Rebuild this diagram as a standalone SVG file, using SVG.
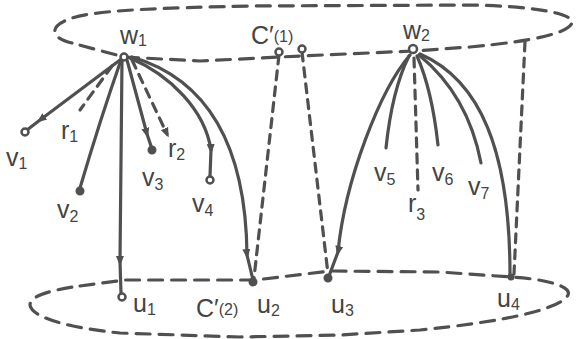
<svg xmlns="http://www.w3.org/2000/svg" width="576" height="339" viewBox="0 0 576 339">
<style>
.e{fill:none;stroke:#505050;stroke-width:3.2;stroke-linecap:round;stroke-linejoin:round}
.d{stroke-dasharray:14 9}
.dd{stroke-dasharray:9 7}
.h{fill:#fff;stroke:#505050;stroke-width:2.5}
.f{fill:#505050;stroke:#505050;stroke-width:2}
text{font-family:"Liberation Sans","DejaVu Sans",sans-serif;font-size:25px;fill:#444}
.s{font-size:16px}
</style>
<defs>
<marker id="arr" viewBox="0 0 10 10" refX="6" refY="5" markerWidth="10" markerHeight="10" markerUnits="userSpaceOnUse" orient="auto">
<path d="M0,1 L10,5 L0,9 z" fill="#505050"/>
</marker>
</defs>
<rect width="576" height="339" fill="#fff"/>
<g id="cylinder">
<path class="e d" d="M72,43 C50,38 48,26 72,18 C97,10 160,8 250,6 L470,5 C530,6 575,13 572,23 C568,33 535,41 470,47 L413,51 L300,56 L200,61 L124,57 Z"/>
<path class="e d" d="M80,286 L125,280 L255,280 L330,271 L440,272 L511,277 C545,279 572,286 568,295 C560,310 500,322 420,330 L340,335 L240,337 L120,333 C70,328 32,318 30,305 C30,296 50,290 80,286 Z"/>
</g>
<g id="connectors">
<path class="e" d="M124,57 L40,120 L27,130" marker-mid="url(#arr)"/>
<path class="e dd" d="M112,66 L80,110"/>
<path class="e" d="M121,60 Q100,120 80,188"/>
<path class="e" d="M122,60 L120,262 L121,293" marker-mid="url(#arr)"/>
<path class="e" d="M127,60 L147,134 L151,146" marker-mid="url(#arr)"/>
<path class="e dd" d="M132,60 L167,134" marker-end="url(#arr)"/>
<path class="e" d="M130,58 C170,75 205,110 211,150 L210,176" marker-mid="url(#arr)"/>
<path class="e" d="M132,57 C210,80 246,150 247,255 L253,280" marker-mid="url(#arr)"/>
<path class="e dd" d="M279,55 L254,278"/>
<path class="e dd" d="M302,52 L328,274"/>
<path class="e" d="M410,55 C380,90 345,180 338,252 L329,276" marker-mid="url(#arr)"/>
<path class="e" d="M409,56 Q392,90 386,148"/>
<path class="e dd" d="M414,58 L418,190"/>
<path class="e" d="M417,56 Q432,90 438,145"/>
<path class="e" d="M419,55 Q468,95 481,163"/>
<path class="e" d="M420,54 C480,80 510,150 510,275"/>
<path class="e dd" d="M525,42 L514,274"/>
</g>
<g id="w1"><circle class="h" cx="124" cy="57" r="3.5"/><text x="120" y="44">w<tspan class="s" dy="2">1</tspan></text></g>
<g id="c1"><circle class="h" cx="279" cy="52" r="3.5"/><circle class="h" cx="302" cy="49" r="3.5"/><text x="251" y="44">C′<tspan class="s" dy="-2">(1)</tspan></text></g>
<g id="w2"><circle class="h" cx="413" cy="49" r="4"/><text x="403" y="39">w<tspan class="s" dy="2">2</tspan></text></g>
<g id="v1"><circle class="h" cx="25" cy="132" r="3.5"/><text x="6" y="166">v<tspan class="s" dy="3">1</tspan></text></g>
<g id="r1"><text x="61" y="139">r<tspan class="s" dy="3">1</tspan></text></g>
<g id="v2"><circle class="f" cx="80" cy="191" r="3.5"/><text x="57" y="218">v<tspan class="s" dy="4">2</tspan></text></g>
<g id="v3"><circle class="f" cx="152" cy="150" r="3.5"/><text x="142" y="186">v<tspan class="s" dy="4">3</tspan></text></g>
<g id="r2"><text x="168" y="157">r<tspan class="s" dy="3">2</tspan></text></g>
<g id="v4"><circle class="h" cx="210" cy="180" r="3.5"/><text x="192" y="212">v<tspan class="s" dy="4">4</tspan></text></g>
<g id="v5"><text x="374" y="181">v<tspan class="s" dy="4">5</tspan></text></g>
<g id="r3"><text x="408" y="212">r<tspan class="s" dy="8">3</tspan></text></g>
<g id="v6"><text x="432" y="181">v<tspan class="s" dy="4">6</tspan></text></g>
<g id="v7"><text x="468" y="195">v<tspan class="s" dy="4">7</tspan></text></g>
<g id="u1"><circle class="h" cx="122" cy="297" r="3.5"/><text x="133" y="312">u<tspan class="s" dy="3">1</tspan></text></g>
<g id="c2"><text x="196" y="317">C′<tspan class="s" dy="-2">(2)</tspan></text></g>
<g id="u2"><circle class="f" cx="253" cy="282" r="3.5"/><text x="257" y="313">u<tspan class="s" dy="3">2</tspan></text></g>
<g id="u3"><circle class="f" cx="328" cy="278" r="3.5"/><text x="331" y="313">u<tspan class="s" dy="3">3</tspan></text></g>
<g id="u4"><circle class="f" cx="511" cy="277" r="2.5"/><text x="497" y="307">u<tspan class="s" dy="3">4</tspan></text></g>
</svg>
